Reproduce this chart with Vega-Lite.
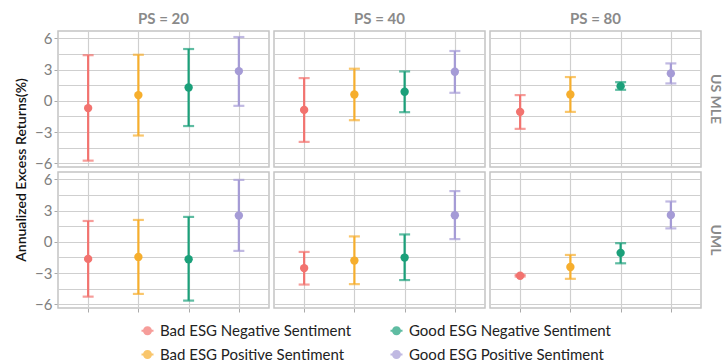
{
  "$schema": "https://vega.github.io/schema/vega-lite/v6.json",
  "background": "white",
  "padding": {"left": 14, "right": 0, "top": 12, "bottom": 0},
  "bounds": "flush",
  "data": {"values": [
    {"model": "US MLE", "ps": 20, "cat": "Bad ESG Negative Sentiment", "est": -0.7, "lo": -5.74, "hi": 4.38},
    {"model": "US MLE", "ps": 20, "cat": "Bad ESG Positive Sentiment", "est": 0.55, "lo": -3.33, "hi": 4.42},
    {"model": "US MLE", "ps": 20, "cat": "Good ESG Negative Sentiment", "est": 1.28, "lo": -2.42, "hi": 4.97},
    {"model": "US MLE", "ps": 20, "cat": "Good ESG Positive Sentiment", "est": 2.85, "lo": -0.48, "hi": 6.12},
    {"model": "US MLE", "ps": 40, "cat": "Bad ESG Negative Sentiment", "est": -0.87, "lo": -3.94, "hi": 2.18},
    {"model": "US MLE", "ps": 40, "cat": "Bad ESG Positive Sentiment", "est": 0.61, "lo": -1.86, "hi": 3.08},
    {"model": "US MLE", "ps": 40, "cat": "Good ESG Negative Sentiment", "est": 0.87, "lo": -1.09, "hi": 2.82},
    {"model": "US MLE", "ps": 40, "cat": "Good ESG Positive Sentiment", "est": 2.79, "lo": 0.77, "hi": 4.78},
    {"model": "US MLE", "ps": 80, "cat": "Bad ESG Negative Sentiment", "est": -1.06, "lo": -2.69, "hi": 0.55},
    {"model": "US MLE", "ps": 80, "cat": "Bad ESG Positive Sentiment", "est": 0.61, "lo": -1.06, "hi": 2.28},
    {"model": "US MLE", "ps": 80, "cat": "Good ESG Negative Sentiment", "est": 1.41, "lo": 1.06, "hi": 1.79},
    {"model": "US MLE", "ps": 80, "cat": "Good ESG Positive Sentiment", "est": 2.63, "lo": 1.67, "hi": 3.59},
    {"model": "UML", "ps": 20, "cat": "Bad ESG Negative Sentiment", "est": -1.64, "lo": -5.26, "hi": 2.0},
    {"model": "UML", "ps": 20, "cat": "Bad ESG Positive Sentiment", "est": -1.45, "lo": -5.0, "hi": 2.1},
    {"model": "UML", "ps": 20, "cat": "Good ESG Negative Sentiment", "est": -1.67, "lo": -5.64, "hi": 2.39},
    {"model": "UML", "ps": 20, "cat": "Good ESG Positive Sentiment", "est": 2.52, "lo": -0.87, "hi": 5.94},
    {"model": "UML", "ps": 40, "cat": "Bad ESG Negative Sentiment", "est": -2.52, "lo": -4.1, "hi": -0.97},
    {"model": "UML", "ps": 40, "cat": "Bad ESG Positive Sentiment", "est": -1.8, "lo": -4.06, "hi": 0.52},
    {"model": "UML", "ps": 40, "cat": "Good ESG Negative Sentiment", "est": -1.51, "lo": -3.67, "hi": 0.71},
    {"model": "UML", "ps": 40, "cat": "Good ESG Positive Sentiment", "est": 2.55, "lo": 0.26, "hi": 4.87},
    {"model": "UML", "ps": 80, "cat": "Bad ESG Negative Sentiment", "est": -3.26, "lo": -3.33, "hi": -3.18},
    {"model": "UML", "ps": 80, "cat": "Bad ESG Positive Sentiment", "est": -2.42, "lo": -3.55, "hi": -1.26},
    {"model": "UML", "ps": 80, "cat": "Good ESG Negative Sentiment", "est": -1.06, "lo": -2.06, "hi": -0.13},
    {"model": "UML", "ps": 80, "cat": "Good ESG Positive Sentiment", "est": 2.58, "lo": 1.29, "hi": 3.87}
  ]},
  "facet": {
    "column": {"field": "ps", "type": "ordinal", "title": null,
      "header": {"labelExpr": "'PS = ' + datum.value", "labelFont": "Lato", "labelFontSize": 15, "labelFontWeight": "bold", "labelColor": "#8a8a8a", "labelPadding": 4}},
    "row": {"field": "model", "type": "nominal", "title": "Annualized Excess Returns(%)\u00a0\u00a0\u00a0\u00a0\u00a0\u00a0\u00a0", "sort": ["US MLE", "UML"],
      "header": {"labelOrient": "right", "labelAngle": 90, "labelFont": "Lato", "labelFontSize": 14, "labelFontWeight": "bold", "labelColor": "#8a8a8a", "labelPadding": 0, "labelAlign": "center", "labelBaseline": "middle",
        "titleOrient": "left", "titleFont": "Lato", "titleFontSize": 14, "titleFontWeight": 600, "titleColor": "#111111", "titlePadding": -5}}
  },
  "spacing": {"column": 5, "row": 5},
  "spec": {
    "width": 211,
    "height": 136,
    "encoding": {
      "x": {"field": "cat", "type": "nominal",
        "scale": {"type": "point", "padding": 0.6, "domain": ["Bad ESG Negative Sentiment", "Bad ESG Positive Sentiment", "Good ESG Negative Sentiment", "Good ESG Positive Sentiment"]},
        "axis": {"labels": false, "title": null, "domain": false, "ticks": true, "tickSize": 4, "tickColor": "#aaaaaa", "grid": true, "gridColor": "#cfcfcf", "gridWidth": 1.2}},
      "color": {"field": "cat", "type": "nominal",
        "scale": {"domain": ["Bad ESG Negative Sentiment", "Bad ESG Positive Sentiment", "Good ESG Negative Sentiment", "Good ESG Positive Sentiment"],
          "range": ["#F2736F", "#F6AE2D", "#1BA07A", "#A59BD6"]},
        "legend": {"orient": "none", "legendX": 82, "legendY": 292, "padding": 0, "columns": 2, "direction": "vertical", "title": null, "labelFont": "Lato", "labelFontSize": 15, "labelColor": "#222222", "labelLimit": 400,
          "symbolType": "M -1 -0.17 L 1 -0.17 L 1 0.17 L -1 0.17 Z M 0.75 0 A 0.75 0.75 0 1 1 -0.75 0 A 0.75 0.75 0 1 1 0.75 0 Z",
          "symbolSize": 144, "symbolStrokeWidth": 0, "columnPadding": 37, "rowPadding": 8, "labelOffset": 5}}
    },
    "layer": [
      {
        "mark": {"type": "rule", "strokeWidth": 2.2},
        "encoding": {
          "y": {"field": "lo", "type": "quantitative", "scale": {"domain": [-6.35, 6.7], "nice": false, "zero": false},
            "title": null,
            "axis": {"values": [-6, -4.5, -3, -1.5, 0, 1.5, 3, 4.5, 6], "tickCount": 20, "format": "d",
              "labelExpr": "(abs(datum.value) == 1.5 || abs(datum.value) == 4.5) ? '' : datum.label",
              "labelOverlap": false, "labelBound": false, "labelFlush": false,
              "domain": false, "tickSize": 4, "tickColor": "#aaaaaa",
              "tickOpacity": {"condition": {"test": "abs(datum.value) == 1.5 || abs(datum.value) == 4.5", "value": 0}, "value": 1},
              "grid": true, "gridColor": "#cfcfcf", "gridWidth": 1.2,
              "labelFont": "Lato", "labelFontSize": 15, "labelColor": "#808080", "labelPadding": 2}},
          "y2": {"field": "hi"}
        }
      },
      {
        "mark": {"type": "tick", "thickness": 2.2, "size": 11},
        "encoding": {"y": {"field": "lo", "type": "quantitative"}}
      },
      {
        "mark": {"type": "tick", "thickness": 2.2, "size": 11},
        "encoding": {"y": {"field": "hi", "type": "quantitative"}}
      },
      {
        "mark": {"type": "point", "filled": true, "opacity": 1, "size": 70},
        "encoding": {"y": {"field": "est", "type": "quantitative"}}
      },
      {
        "transform": [{"filter": "datum.cat == 'Bad ESG Negative Sentiment'"}],
        "mark": {"type": "rule", "strokeDash": [4, 3], "strokeWidth": 1.3},
        "encoding": {"y": {"datum": 0}, "color": {"value": "#333333"}}
      }
    ]
  },
  "config": {
    "font": "Lato",
    "view": {"stroke": "#c4c4c4", "strokeWidth": 1.5},
    "axis": {"labelFont": "Lato"}
  }
}
